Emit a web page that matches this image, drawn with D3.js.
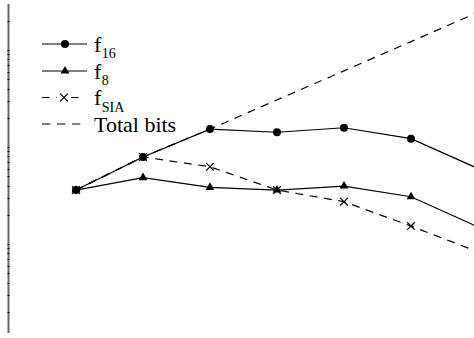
<!DOCTYPE html>
<html>
<head>
<meta charset="utf-8">
<script src="https://cdn.jsdelivr.net/npm/d3@7"></script>
<style>
  html, body { margin: 0; padding: 0; background: #fff; }
  svg { display: block; }
</style>
</head>
<body>
<svg id="chart" width="474" height="338"></svg>
<script>
// Step index along the horizontal axis
const steps = [1, 2, 3, 4, 5, 6, 7];

// Series values (log-scaled vertical axis)
const f16 = [3.6, 7.9, 15.3, 14.2, 15.8, 12.2, 6.0];
const f8 = [3.6, 4.83, 3.84, 3.6, 3.96, 3.07, 1.5];
const fSIA = [3.6, 7.9, 6.26, 3.6, 2.73, 1.53, 0.83];
const totalBits = [3.6, 7.9, 15.3, 30.6, 61, 122, 245];

// Legend entries: main label + subscript
const legendNames = ["f", "f", "f", "Total bits"];
const legendSubs = ["16", "8", "SIA", ""];

const svg = d3.select("#chart");
const font = "'Liberation Serif', 'Times New Roman', 'DejaVu Serif', serif";

const x = d3.scaleLinear().domain([1, 7]).range([76, 478]);
const y = d3.scaleLog().domain([0.121, 298]).range([333, 4]);

// Vertical axis: grey spine with dark log ticks sitting on it
const axisG = svg.append("g").attr("transform", "translate(8.5,0)");
axisG.append("line")
  .attr("y1", y.range()[0]).attr("y2", y.range()[1])
  .attr("stroke", "#666").attr("stroke-width", 2);
axisG.selectAll("line.tick")
  .data(y.ticks())
  .join("line")
  .attr("class", "tick")
  .attr("x1", -1).attr("x2", 1)
  .attr("y1", d => Math.round(y(d)) + 0.5)
  .attr("y2", d => Math.round(y(d)) + 0.5)
  .attr("stroke", "#000").attr("stroke-width", 1);

const pts = vals => vals.map((v, i) => [steps[i], v]);
const line = d3.line().x(d => x(d[0])).y(d => y(d[1]));

const plot = svg.append("g");

const series = [
  { vals: totalBits, dash: "8,6.5", marker: null },
  { vals: fSIA, dash: "8,6.5", marker: "x" },
  { vals: f8, dash: null, marker: "tri" },
  { vals: f16, dash: null, marker: "circle" }
];

series.forEach(s => {
  plot.append("path")
    .attr("d", line(pts(s.vals)))
    .attr("fill", "none")
    .attr("stroke", "#000")
    .attr("stroke-width", 1.2)
    .attr("stroke-dasharray", s.dash);
});

const triPath = d3.symbol(d3.symbolTriangle, 34)();
const xPath = d3.symbol(d3.symbolTimes, 40)();

function drawMarker(g, kind, cx, cy) {
  if (kind === "circle") {
    g.append("circle").attr("cx", cx).attr("cy", cy).attr("r", 4).attr("fill", "#000");
  } else if (kind === "tri") {
    g.append("path").attr("d", triPath).attr("transform", `translate(${cx},${cy})`).attr("fill", "#000");
  } else if (kind === "x") {
    g.append("path").attr("d", xPath).attr("transform", `translate(${cx},${cy})`)
      .attr("fill", "none").attr("stroke", "#000").attr("stroke-width", 1.2);
  }
}

series.forEach(s => {
  if (!s.marker) return;
  pts(s.vals).forEach(d => drawMarker(plot, s.marker, x(d[0]), y(d[1])));
});

// Legend
const legend = svg.append("g");
const legendRows = [
  { marker: "circle", dash: null, y: 44 },
  { marker: "tri", dash: null, y: 71 },
  { marker: "x", dash: "7.5,7", y: 97.5 },
  { marker: null, dash: "8.3,6.7", y: 124 }
];

legendRows.forEach((r, i) => {
  legend.append("line")
    .attr("x1", 42).attr("x2", r.dash ? 81 : 87)
    .attr("y1", r.y).attr("y2", r.y)
    .attr("stroke", "#000").attr("stroke-width", 1.2)
    .attr("stroke-dasharray", r.dash);
  if (r.marker) {
    if (r.marker === "x") {
      legend.append("rect").attr("x", 57).attr("y", r.y - 5).attr("width", 14).attr("height", 10).attr("fill", "#fff");
    }
    drawMarker(legend, r.marker, r.marker === "x" ? 64 : 65, r.y);
  }
  const t = legend.append("text")
    .attr("x", 94).attr("y", r.y + 7.5)
    .attr("font-family", font).attr("font-size", 22).attr("fill", "#000");
  t.append("tspan").text(legendNames[i]);
  if (legendSubs[i]) {
    t.append("tspan").attr("dy", 6.5).attr("dx", 0.5).attr("font-size", 14).text(legendSubs[i]);
  }
});
</script>
</body>
</html>
